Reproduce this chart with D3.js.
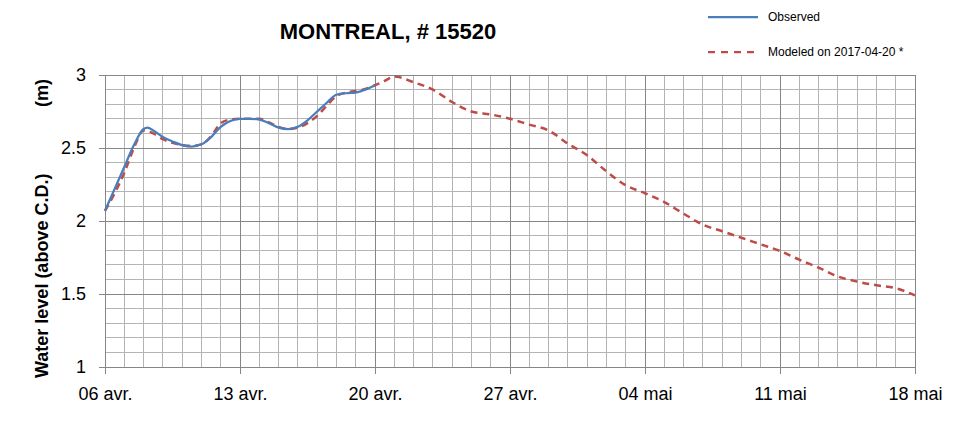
<!DOCTYPE html>
<html><head><meta charset="utf-8">
<script src="https://cdn.jsdelivr.net/npm/d3@7"></script>
<style>
html,body{margin:0;padding:0;background:#fff;}
svg{display:block;font-family:"Liberation Sans",Arial,sans-serif;}
</style></head>
<body><svg id="chart" width="969" height="421"></svg>
<script>
// ---- data ----
const startDate = "2017-04-06";
const tickLabels = ["06 avr.","13 avr.","20 avr.","27 avr.","04 mai","11 mai","18 mai"];
const yTickLabels = ["1","1.5","2","2.5","3"];
// days since 06 avr.
const obsDays = [0,0.5,1,1.5,2,2.2,2.5,3,3.5,4,4.5,5,5.5,6,6.5,7,7.5,8,8.5,9,9.5,10,10.5,11,11.5,12,12.5,13,13.5,14];
const obsValues = [2.07,2.22,2.37,2.52,2.63,2.64,2.62,2.575,2.545,2.52,2.51,2.525,2.575,2.645,2.685,2.70,2.70,2.695,2.67,2.64,2.63,2.645,2.69,2.75,2.81,2.865,2.875,2.88,2.90,2.93];
const modDays = [0,0.5,1,1.5,2,2.5,3,3.5,4,4.5,5,5.5,6,6.5,7,7.5,8,8.5,9,9.5,10,10.5,11,11.5,12,12.5,13,13.5,14,14.5,15,16,17,18,19,20,21,22,23,24,25,26,27,28,29,30,31,32,33,34,35,36,37,38,39,40,41,42];
const modValues = [2.07,2.19,2.33,2.50,2.62,2.60,2.56,2.535,2.52,2.515,2.525,2.58,2.67,2.695,2.70,2.70,2.70,2.675,2.645,2.63,2.64,2.67,2.72,2.79,2.855,2.88,2.89,2.905,2.93,2.96,2.99,2.95,2.90,2.815,2.75,2.73,2.70,2.66,2.62,2.53,2.45,2.34,2.245,2.19,2.13,2.05,1.975,1.93,1.885,1.84,1.795,1.735,1.68,1.62,1.585,1.56,1.54,1.49];
const seriesNames = ["Observed","Modeled on 2017-04-20 *"];
const seriesColors = ["#4A7EBB","#BE4B48"];

// ---- layout ----
const svg = d3.select("#chart");
const m = {left:105, right:54, top:75, bottom:54};
const W = 969, H = 421;
const t0 = d3.timeParse("%Y-%m-%d")(startDate);
const day = d => d3.timeHour.offset(t0, Math.round(d*24));
const x = d3.scaleTime().domain([t0, day(42)]).range([m.left, W-m.right]);
const y = d3.scaleLinear().domain([1,3]).range([H-m.bottom, m.top]);

// grid
const g = svg.append("g");
const dayTicks = d3.range(0,43).map(day);
const minorX = dayTicks.filter((d,i)=>i%7!==0);
const majorX = dayTicks.filter((d,i)=>i%7===0);
const yMinor = d3.range(10,31).map(v=>v/10).filter(v=>Math.round(v*10)%5!==0);
const yMajor = [1,1.5,2,2.5,3];

g.selectAll(".vx").data(minorX).join("line")
  .attr("x1",d=>x(d)).attr("x2",d=>x(d)).attr("y1",y(1)).attr("y2",y(3))
  .attr("stroke","#b4b4b4").attr("stroke-width",1).attr("shape-rendering","crispEdges");
g.selectAll(".hy").data(yMinor).join("line")
  .attr("x1",x(day(0))).attr("x2",x(day(42))).attr("y1",d=>y(d)).attr("y2",d=>y(d))
  .attr("stroke","#b4b4b4").attr("stroke-width",1).attr("shape-rendering","crispEdges");
g.selectAll(".vX").data(majorX).join("line")
  .attr("x1",d=>x(d)).attr("x2",d=>x(d)).attr("y1",y(1)).attr("y2",y(3))
  .attr("stroke","#868686").attr("stroke-width",1).attr("shape-rendering","crispEdges");
g.selectAll(".hY").data(yMajor).join("line")
  .attr("x1",x(day(0))).attr("x2",x(day(42))).attr("y1",d=>y(d)).attr("y2",d=>y(d))
  .attr("stroke","#868686").attr("stroke-width",1).attr("shape-rendering","crispEdges");

// axes
const xAxis = d3.axisBottom(x).tickValues(majorX).tickSize(7)
  .tickFormat((d,i)=>tickLabels[i]);
const xa = svg.append("g").attr("transform",`translate(0,${y(1)})`).call(xAxis);
xa.select(".domain").attr("stroke","#868686");
xa.selectAll(".tick line").attr("stroke","#868686");
xa.selectAll("text").attr("font-size",18).attr("fill","#000").attr("dy","1.25em")
  .attr("font-family","Liberation Sans, Arial, sans-serif");

const yAxis = d3.axisLeft(y).tickValues(yMajor).tickSize(6)
  .tickFormat((d,i)=>yTickLabels[i]);
const ya = svg.append("g").attr("transform",`translate(${x(day(0))},0)`).call(yAxis);
ya.select(".domain").attr("stroke","#868686");
ya.selectAll(".tick line").attr("stroke","#868686");
ya.selectAll("text").attr("font-size",18).attr("fill","#000").attr("x",-19)
  .attr("font-family","Liberation Sans, Arial, sans-serif");

// lines
const line = d3.line().x(d=>x(day(d[0]))).y(d=>y(d[1])).curve(d3.curveMonotoneX);
const obs = obsDays.map((d,i)=>[d,obsValues[i]]);
const mod = modDays.map((d,i)=>[d,modValues[i]]);
svg.append("path").datum(mod).attr("d",line).attr("fill","none")
  .attr("stroke",seriesColors[1]).attr("stroke-width",2.5).attr("stroke-dasharray","7,5");
svg.append("path").datum(obs).attr("d",line).attr("fill","none")
  .attr("stroke",seriesColors[0]).attr("stroke-width",2.25);

// title
svg.append("text").attr("x",388).attr("y",39).attr("text-anchor","middle")
  .attr("font-size",22).attr("font-weight","bold").attr("fill","#000")
  .text("MONTREAL, # 15520");

// y label
svg.append("text").attr("transform","translate(48,378) rotate(-90)")
  .attr("font-size",18).attr("font-weight","bold").attr("fill","#000")
  .text("Water level (above C.D.)");
svg.append("text").attr("transform","translate(48,79) rotate(-90)")
  .attr("text-anchor","end")
  .attr("font-size",18).attr("font-weight","bold").attr("fill","#000")
  .text("(m)");

// legend
const leg = svg.append("g");
const legY = [17, 52];
seriesNames.forEach((n,i)=>{
  leg.append("line").attr("x1",708).attr("x2",758).attr("y1",legY[i]).attr("y2",legY[i])
    .attr("stroke",seriesColors[i]).attr("stroke-width",2.25)
    .attr("stroke-dasharray", i===1 ? "7,6" : null);
  leg.append("text").attr("x",768).attr("y",legY[i]).attr("dy","0.35em")
    .attr("font-size",12).attr("fill","#000").text(n);
});
</script></body></html>
